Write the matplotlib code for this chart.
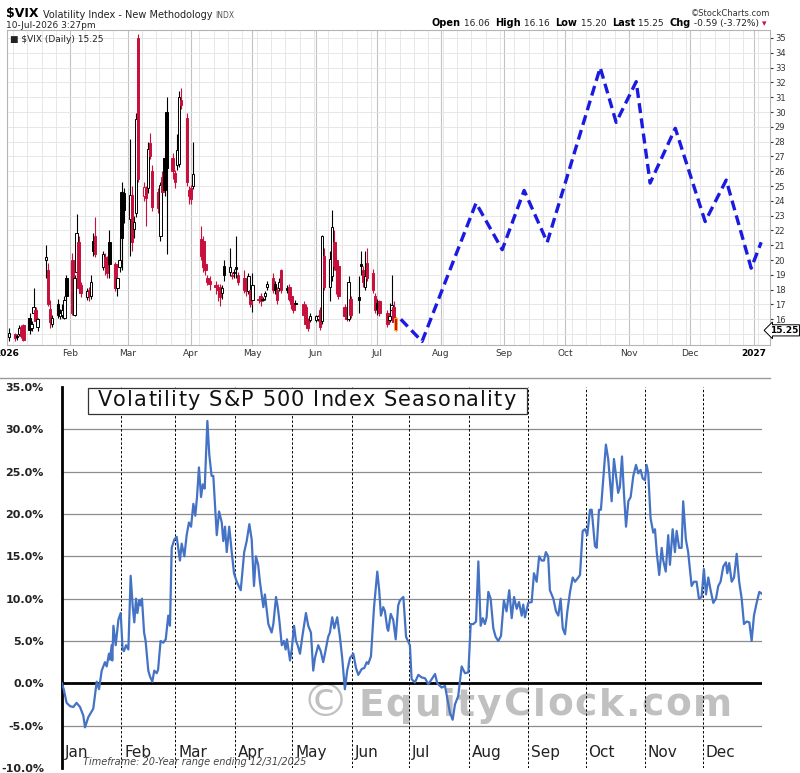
import matplotlib
matplotlib.use("Agg")
import matplotlib.pyplot as plt
import numpy as np
import pandas as pd
from matplotlib.lines import Line2D
from matplotlib.patches import Rectangle

# ---------------- top panel: $VIX daily candles (Jan 2 - Jul 10, 2026)
holidays = ["2026-01-19", "2026-02-16", "2026-04-03", "2026-05-25", "2026-06-19", "2026-07-03"]

vix_open = [
    # Jan
    14.8, 15.0, 14.9, 15.0, 15.5, 15.6, 16.1, 15.4, 16.4, 16.6, 15.5, 20.0, 19.3, 16.7, 15.7, 17.0, 16.2, 16.3, 16.1, 18.8,
    # Feb
    20.0, 16.3, 19.2, 21.2, 18.3, 17.5, 18.0, 17.6, 21.3, 21.6, 19.5, 20.2, 20.0, 21.2, 19.7, 18.1, 19.5, 24.6, 24.5,
    # Mar
    22.8, 24.4, 22.1, 23.2, 35.0, 24.3, 24.8, 24.9, 27.9, 26.0, 24.6, 21.6, 25.6, 26.9, 30.0, 26.9, 25.9, 26.4, 26.5, 30.8, 29.6, 24.7,
    # Apr
    24.9, 25.0, 21.4, 21.3, 19.7, 18.8, 18.6, 18.3, 18.1, 18.2, 17.8, 19.6, 19.2, 19.0, 19.1, 19.5, 19.0, 18.8, 18.1, 17.9, 18.0,
    # May
    17.3, 17.3, 17.6, 17.4, 17.6, 18.2, 18.8, 18.4, 18.0, 18.1, 19.3, 18.1, 18.2, 17.6, 16.96, 17.1, 17.0, 16.85, 15.95, 15.95,
    # Jun
    15.95, 16.0, 16.6, 15.9, 20.3, 18.2, 18.9, 21.2, 20.0, 19.6, 16.85, 16.4, 16.05, 17.4, 17.5, 19.7, 19.3, 18.2, 19.8, 19.1, 17.6,
    # Jul
    17.1, 17.2, 16.4, 15.95, 16.6, 16.85, 16.06,
]
vix_high = [
    15.4, 15.1, 15.0, 15.6, 15.6, 15.7, 16.4, 15.9, 18.1, 16.8, 16.1, 21.0, 19.8, 17.3, 16.3, 17.4, 16.7, 17.0, 17.6, 19.0,
    20.5, 19.0, 23.1, 21.6, 18.5, 18.1, 18.2, 19.0, 21.8, 22.9, 20.6, 20.5, 20.3, 22.0, 19.9, 19.0, 21.5, 25.3, 24.9,
    28.2, 25.0, 23.0, 29.9, 35.3, 25.3, 25.0, 28.0, 28.6, 26.4, 24.9, 25.3, 26.0, 27.2, 31.0, 27.2, 26.1, 28.5, 31.4, 31.6, 29.9, 25.0,
    25.1, 28.0, 22.3, 21.6, 20.0, 19.0, 18.9, 18.6, 18.4, 18.4, 18.3, 20.0, 20.8, 19.2, 19.4, 21.6, 19.2, 19.3, 18.4, 19.1, 18.2,
    19.1, 17.6, 17.8, 17.5, 17.9, 18.6, 19.1, 18.6, 18.2, 18.8, 19.4, 18.3, 18.4, 17.8, 17.1, 17.3, 17.2, 17.0, 16.1, 16.4,
    16.3, 16.3, 16.8, 21.7, 20.8, 20.6, 23.4, 22.0, 20.3, 19.8, 17.0, 16.6, 18.9, 17.6, 18.9, 20.6, 19.6, 20.6, 20.8, 19.4, 17.8,
    17.4, 17.3, 16.6, 17.1, 18.96, 17.2, 16.16,
]
vix_low = [
    14.5, 14.5, 14.6, 14.9, 14.7, 14.5, 15.0, 15.2, 16.2, 15.8, 15.2, 18.8, 16.9, 15.4, 15.5, 16.1, 16.0, 16.1, 16.0, 17.2,
    16.3, 16.2, 18.9, 17.9, 17.5, 17.3, 17.2, 17.4, 20.3, 20.2, 19.3, 19.0, 18.8, 18.8, 17.9, 17.6, 19.2, 19.3, 22.5,
    20.3, 20.6, 21.5, 22.9, 25.3, 24.0, 22.3, 24.5, 26.8, 23.3, 23.2, 21.3, 24.3, 24.3, 20.4, 25.5, 24.9, 26.1, 26.3, 30.2, 25.0, 23.8,
    23.8, 24.8, 20.0, 19.2, 19.0, 18.3, 18.0, 17.7, 17.2, 16.9, 17.4, 18.6, 18.9, 18.7, 18.8, 18.8, 18.3, 17.8, 17.6, 17.7, 16.8,
    16.5, 17.1, 16.9, 17.2, 17.3, 18.0, 17.8, 17.7, 17.0, 17.9, 17.8, 17.8, 17.2, 16.7, 16.4, 16.8, 16.2, 15.5, 15.2, 15.8,
    15.8, 15.9, 15.3, 15.7, 18.0, 17.2, 18.6, 19.3, 17.7, 17.4, 16.0, 15.9, 15.9, 16.1, 16.4, 19.0, 18.2, 18.0, 18.6, 17.8, 16.4,
    16.3, 16.2, 15.5, 15.8, 16.4, 15.8, 15.20,
]
vix_close = [
    15.1, 14.7, 14.8, 15.4, 14.9, 14.6, 15.3, 15.7, 16.8, 15.9, 16.0, 20.2, 17.0, 15.8, 16.1, 16.3, 16.4, 16.6, 17.3, 17.6,
    16.4, 18.8, 21.8, 18.1, 17.8, 17.9, 17.6, 18.5, 20.6, 20.4, 20.4, 19.6, 19.1, 19.7, 18.1, 18.8, 20.0, 21.5, 23.4,
    24.4, 21.2, 22.6, 29.5, 25.5, 24.9, 24.2, 27.5, 27.0, 23.6, 23.5, 25.1, 24.6, 24.7, 26.2, 26.0, 25.3, 27.4, 31.0, 30.5, 25.3, 24.3,
    24.1, 25.8, 20.3, 19.5, 19.3, 18.5, 18.4, 18.2, 18.0, 17.5, 18.1, 19.0, 19.5, 18.9, 19.2, 19.4, 18.5, 18.0, 17.9, 18.9, 17.0,
    18.3, 17.4, 17.2, 17.3, 17.8, 18.4, 18.0, 18.0, 17.3, 18.5, 18.0, 18.0, 17.4, 17.0, 16.6, 17.05, 16.3, 15.7, 15.4, 16.2,
    16.2, 16.2, 15.5, 21.6, 18.2, 20.1, 22.2, 19.6, 19.3, 17.6, 16.2, 16.05, 18.5, 16.3, 17.3, 19.6, 18.5, 18.9, 18.8, 18.0, 16.6,
    16.7, 16.4, 15.7, 16.2, 16.95, 15.84, 15.25,
]

# dashed seasonal projection (day of year 2026, VIX level)
proj_day = [192.5, 202.9, 229.3, 242.1, 252.8, 264.1, 290.0, 297.8, 307.6, 314.4, 326.7, 341.3, 351.6, 363.8, 368.7]
proj_val = [16.0, 14.5, 23.85, 20.7, 24.7, 21.2, 33.0, 29.3, 32.05, 25.2, 28.9, 22.6, 25.4, 19.45, 21.2]

top_xlabels = ["2026", "Feb", "Mar", "Apr", "May", "Jun", "Jul", "Aug", "Sep", "Oct", "Nov", "Dec", "2027"]

# ---------------- bottom panel: 20-year seasonality (day of year, % change)
season_day = [
    0, 1.0, 2.4, 4.2, 5.9, 7.6, 9.4, 11.1, 12.0, 13.7, 16.3, 18.1, 19.3, 20.7, 22.4, 23.3, 24.5, 25.0, 25.9, 26.2,
    26.8, 28.0, 29.4, 30.6, 31.6, 32.3, 33.4, 34.6, 35.8, 36.9, 37.7, 38.6, 39.3, 40.3, 41.0, 41.7, 42.8, 43.6, 45.0, 45.9,
    47.1, 48.1, 49.4, 50.1, 51.4, 52.8, 54.1, 55.4, 56.3, 57.2, 58.6, 59.8, 61.5, 62.4, 63.8, 65.0, 66.2, 67.3, 68.5, 69.5,
    70.4, 71.4, 72.5, 73.4, 74.4, 75.8, 76.8, 78.0, 78.9, 80.7, 81.9, 83.3, 84.1, 85.0, 85.9, 87.2, 88.5, 89.7, 91.1, 93.2,
    95.0, 96.3, 97.7, 98.9, 100.1, 101.1, 102.3, 103.2, 105.0, 105.8, 107.6, 109.3, 110.2, 111.6, 112.5, 113.3, 114.6, 115.7, 116.6, 117.3,
    118.9, 119.8, 121.0, 122.0, 122.9, 124.1, 125.3, 127.2, 128.4, 129.8, 131.0, 131.9, 133.6, 134.9, 136.2, 137.1, 138.8, 139.7, 140.9, 142.0,
    143.5, 144.9, 146.1, 147.5, 148.7, 150.2, 151.9, 153.3, 154.5, 156.3, 157.6, 158.9, 159.7, 161.1, 162.7, 164.4, 165.4, 166.3, 167.5, 168.4,
    169.6, 170.1, 171.4, 172.7, 174.0, 175.3, 176.2, 178.0, 179.4, 181.4, 182.3, 184.0, 185.8, 187.5, 189.3, 191.0, 192.8, 194.5, 195.7, 198.0,
    199.7, 201.1, 202.3, 203.7, 204.9, 206.6, 208.4, 210.1, 211.9, 213.1, 214.5, 215.9, 217.1, 218.3, 219.4, 220.5, 221.4, 222.3, 223.5, 224.9,
    226.1, 227.5, 228.9, 230.4, 231.8, 233.2, 234.5, 235.7, 237.1, 238.3, 239.7, 240.5, 241.4, 243.1, 244.9, 246.1, 247.5, 248.8, 250.1, 251.3,
    252.3, 253.5, 254.4, 256.2, 257.6, 258.8, 260.0, 261.1, 262.3, 263.5, 264.9, 266.3, 267.5, 269.2, 270.1, 271.5, 272.7, 273.9, 275.3, 276.2,
    277.9, 278.8, 280.0, 281.0, 282.2, 283.6, 284.8, 286.6, 287.8, 289.2, 290.0, 290.9, 292.0, 293.0, 294.1, 295.3, 296.5, 297.9, 299.3, 300.5,
    301.7, 302.8, 304.0, 304.8, 305.7, 306.9, 308.3, 309.2, 310.1, 311.4, 312.7, 313.5, 314.8, 316.1, 317.0, 318.4, 319.6, 320.5, 321.8, 323.1,
    323.9, 325.3, 326.5, 328.3, 329.5, 330.9, 332.1, 333.5, 334.7, 335.8, 337.0, 338.2, 339.6, 341.0, 342.2, 343.4, 344.8, 346.2, 346.9, 347.9,
    349.2, 350.4, 351.8, 353.1, 354.4, 355.6, 357.0, 358.4, 359.6, 360.8, 362.2, 363.6, 364.8,
]
season_pct = [
    0, -0.8, -2.3, -2.7, -2.8, -2.3, -2.8, -3.8, -5.2, -4.0, -3.0, 0.2, -0.7, 1.5, 2.5, 2.0, 3.5, 2.8, 4.5, 2.7,
    6.8, 4.5, 7.5, 8.3, 4.0, 3.8, 4.5, 4.0, 12.7, 9.0, 7.2, 10.0, 8.3, 9.8, 9.2, 10.0, 6.0, 5.0, 1.5, 0.8,
    0.2, 1.5, 1.2, 1.6, 5.0, 4.8, 5.2, 8.0, 6.8, 16.0, 17.0, 17.3, 14.5, 16.5, 15.0, 17.5, 19.0, 18.5, 21.2, 19.8,
    22.0, 25.5, 22.0, 23.5, 23.0, 31.0, 27.0, 24.5, 24.5, 17.5, 20.3, 19.0, 16.8, 18.5, 15.5, 18.5, 15.5, 13.0, 12.0, 11.0,
    15.5, 16.8, 18.8, 17.0, 11.5, 15.0, 14.0, 12.0, 9.0, 10.5, 7.0, 6.0, 7.0, 10.2, 9.0, 7.5, 4.5, 5.0, 4.0, 5.2,
    2.7, 4.0, 6.8, 5.0, 4.5, 3.5, 5.5, 8.3, 6.8, 6.0, 1.5, 3.0, 4.5, 3.8, 2.5, 3.5, 5.5, 6.0, 7.8, 6.5,
    7.8, 5.5, 3.0, -0.7, 1.5, 3.0, 3.5, 1.8, 1.0, 1.7, 1.8, 2.5, 2.3, 3.2, 9.0, 13.2, 11.0, 8.0, 9.0, 8.5,
    6.5, 6.2, 8.2, 7.5, 5.2, 9.2, 9.8, 10.2, 5.5, 4.5, 0.5, 0.1, 1.0, 0.7, 0.6, -0.1, 0.5, 1.1, 0.0, -0.5,
    -0.3, -2.0, -3.5, -4.3, -2.5, -1.5, 2.0, 1.2, 1.3, 7.0, 7.0, 7.3, 14.4, 6.8, 7.7, 7.0, 7.8, 10.8, 10.0, 6.5,
    5.5, 5.0, 5.6, 9.8, 8.5, 11.0, 7.7, 10.2, 8.8, 9.6, 8.0, 9.3, 7.8, 9.5, 9.6, 13.0, 12.0, 15.0, 14.5, 14.5,
    15.5, 15.0, 11.0, 10.0, 8.5, 8.0, 10.0, 6.5, 5.8, 8.5, 10.8, 12.5, 12.0, 12.5, 12.8, 18.0, 18.2, 17.5, 20.5, 20.5,
    16.2, 16.0, 20.5, 20.5, 24.0, 28.2, 26.5, 21.5, 26.5, 24.0, 22.5, 23.2, 26.8, 22.5, 18.5, 21.5, 22.0, 24.5, 25.8, 24.8,
    25.2, 24.2, 24.0, 25.8, 24.8, 19.5, 17.8, 18.2, 15.5, 12.8, 16.0, 14.5, 13.2, 17.5, 14.0, 18.2, 15.5, 18.0, 16.0, 16.0,
    21.5, 17.0, 15.5, 11.5, 12.0, 12.0, 10.0, 10.2, 13.5, 10.5, 12.5, 11.0, 9.5, 10.0, 11.5, 12.0, 13.8, 14.3, 13.0, 14.2,
    12.0, 12.5, 15.3, 12.0, 10.0, 7.0, 7.3, 7.2, 5.0, 8.0, 9.5, 10.8, 10.6,
]
months = ["Jan", "Feb", "Mar", "Apr", "May", "Jun", "Jul", "Aug", "Sep", "Oct", "Nov", "Dec"]
month_start = [0, 31, 59, 90, 120, 151, 181, 212, 243, 273, 304, 334]
pct_ticks = [-10, -5, 0, 5, 10, 15, 20, 25, 30, 35]

RED = "#c8103c"
BLUE = "#4472c4"
W, H = 800, 773


def box(l, t, r, b):
    return [l / W, 1 - b / H, (r - l) / W, (b - t) / H]


def px(x, y):
    return x / W, 1 - y / H


def spaced_text(ax, x, y, s, gap, **kw):
    """Write s one glyph at a time with extra letter spacing (gap in points)."""
    fs = kw.get("fontsize", 10)
    first = ax.text(x, y, s[0], transform=ax.transAxes, ha="left", va="baseline", **kw)
    prev, extra = first, gap
    for ch in s[1:]:
        if ch == " ":
            extra += 0.32 * fs + gap
            continue
        prev = ax.annotate(ch, xy=(1, 0), xycoords=prev, xytext=(extra, 0), textcoords="offset points",
                           ha="left", va="bottom", **kw)
        extra = gap
    return first


fig = plt.figure(figsize=(W / 100, H / 100), dpi=100)

# ================= top chart
ax1 = fig.add_axes(box(7, 30, 770, 345))
ax1.set_xlim(0, 373)
ax1.set_ylim(14.26, 35.54)

for d in range(3, 373, 7):
    ax1.axvline(d, color="#e3e3e3", lw=0.6, zorder=0)
for m in month_start[1:] + [365]:
    ax1.axvline(m, color="#c2c2c2", lw=0.8, zorder=0)
for v in range(15, 36):
    ax1.axhline(v, color="#e3e3e3", lw=0.6, zorder=0)

dates = pd.bdate_range("2026-01-02", "2026-07-10")
dates = dates[~dates.isin(pd.to_datetime(holidays))]
x = dates.dayofyear.values - 1
o, hi, lo, c = (np.array(a) for a in (vix_open, vix_high, vix_low, vix_close))
prev = np.r_[c[0], c[:-1]]
col = np.where(c < prev, RED, "black")
filled = c < o
face = np.where(filled, col, "white")
edge = col.copy().astype(object)
edge[-1] = "#ffb000"

ax1.vlines(x, lo, hi, colors=col, lw=0.8, zorder=2)
body_lo = np.minimum(o, c)
body_h = np.maximum(np.abs(c - o), 0.08)
ax1.bar(x, body_h, bottom=body_lo, width=1.2, color=face, edgecolor=list(edge), linewidth=0.7, zorder=3)

ax1.plot(proj_day, proj_val, color="#1a1ae0", lw=2.4, ls=(0, (3, 1.6)), zorder=4)

for s in ax1.spines.values():
    s.set_color("#b5b5b5")
    s.set_linewidth(0.8)
ax1.yaxis.tick_right()
ax1.set_yticks(range(16, 36))
ax1.tick_params(axis="y", labelsize=6, colors="#333333", length=2, pad=1.5)
ax1.set_xticks(month_start + [365])
ax1.set_xticklabels(top_xlabels)
ax1.tick_params(axis="x", labelsize=6.5, colors="#333333", length=0, pad=3)
for lab in (ax1.get_xticklabels()[0], ax1.get_xticklabels()[-1]):
    lab.set_fontweight("bold")
    lab.set_color("black")

ax1.text(1.0, (15.25 - 14.26) / (35.54 - 14.26), "15.25", transform=ax1.transAxes,
         fontsize=6.5, fontweight="bold", va="center", ha="left",
         bbox=dict(boxstyle="larrow,pad=0.12", fc="white", ec="black", lw=0.7))
ax1.text(0.004, 0.985, "\u25a0 $VIX (Daily) 15.25", transform=ax1.transAxes, fontsize=6.5,
         va="top", ha="left", color="#222222")

# header
t1 = fig.text(*px(6, 17), "$VIX ", fontsize=9, fontweight="bold", va="baseline")
t2 = ax1.annotate("Volatility Index - New Methodology ", xy=(1, 0), xycoords=t1, fontsize=7,
                  va="bottom", ha="left", color="#222222")
ax1.annotate("INDX", xy=(1, 0), xycoords=t2, fontsize=5.5, va="bottom", ha="left", color="#555555")
fig.text(*px(6, 25), "10-Jul-2026 3:27pm", fontsize=6.5, va="center", color="#222222")
fig.text(*px(770, 13), "\u00a9StockCharts.com", fontsize=6, va="center", ha="right", color="#333333")

segs = [("\u25be", "normal", RED), (" -0.59 (-3.72%) ", "normal", "#222222"), ("Chg", "bold", "black"),
        (" 15.25  ", "normal", "#222222"), ("Last", "bold", "black"), (" 15.20  ", "normal", "#222222"),
        ("Low", "bold", "black"), (" 16.16  ", "normal", "#222222"), ("High", "bold", "black"),
        (" 16.06  ", "normal", "#222222"), ("Open", "bold", "black")]
prev_t = None
for s, w, cc in segs:
    fs = 7 if w == "bold" else 6.5
    if prev_t is None:
        prev_t = fig.text(*px(766, 28), s, fontsize=fs, fontweight=w, color=cc, ha="right", va="bottom")
    else:
        prev_t = ax1.annotate(s, xy=(0, 0), xycoords=prev_t, fontsize=fs, fontweight=w, color=cc,
                              ha="right", va="bottom")

fig.add_artist(Line2D([0, 770 / W], [1 - 378 / H] * 2, color="#9a9a9a", lw=1))

# ================= bottom chart
ax2 = fig.add_axes(box(62, 387, 762, 768))
ax2.set_xlim(0, 365)
ax2.set_ylim(-10, 35)
for v in pct_ticks[1:-1]:
    if v != 0:
        ax2.axhline(v, color="#8c8c8c", lw=0.9, zorder=1)
for m in month_start[1:]:
    ax2.axvline(m, color="black", lw=0.7, ls=(0, (2.5, 2)), zorder=1)

# watermark
ax2.text((301 - 62) / 700, (768 - 703) / 381, "\u00a9", transform=ax2.transAxes, fontsize=34,
         color="#c0c0c0", ha="left", va="center", zorder=0)
spaced_text(ax2, (358 - 62) / 700, (768 - 716) / 381, "EquityClock.com", 1.3,
            fontsize=27, fontweight="bold", color="#c0c0c0", zorder=0)

ax2.axhline(0, color="black", lw=2, zorder=2)
ax2.plot(season_day, season_pct, color=BLUE, lw=1.6, zorder=3)

for m, name in zip(month_start, months):
    ax2.text(m + 1.5, -8.2, name, fontsize=11, color="#222222", ha="left", va="center")
ax2.text(0.03, 0.016, "Timeframe: 20-Year range ending 12/31/2025", transform=ax2.transAxes,
         fontsize=7, style="italic", color="#444444", ha="left", va="center")

ax2.add_patch(Rectangle((0.037, 0.929), 0.627, 0.068, transform=ax2.transAxes,
                        facecolor="white", edgecolor="#333333", lw=0.9, zorder=5))
spaced_text(ax2, (98 - 62) / 700, (768 - 406) / 381, "Volatility S&P 500 Index Seasonality", 0.8,
            fontsize=15, color="#111111", zorder=6)

for k in ("top", "right", "bottom"):
    ax2.spines[k].set_visible(False)
ax2.spines["left"].set_linewidth(2)
ax2.set_xticks([])
ax2.set_yticks(pct_ticks)
ax2.set_yticklabels([f"{v:.1f}%" for v in pct_ticks])
ax2.tick_params(axis="y", length=0, pad=13, labelsize=8)
for lab in ax2.get_yticklabels():
    lab.set_fontweight("bold")
    lab.set_color("#222222")

fig.savefig("out.png", dpi=100)
